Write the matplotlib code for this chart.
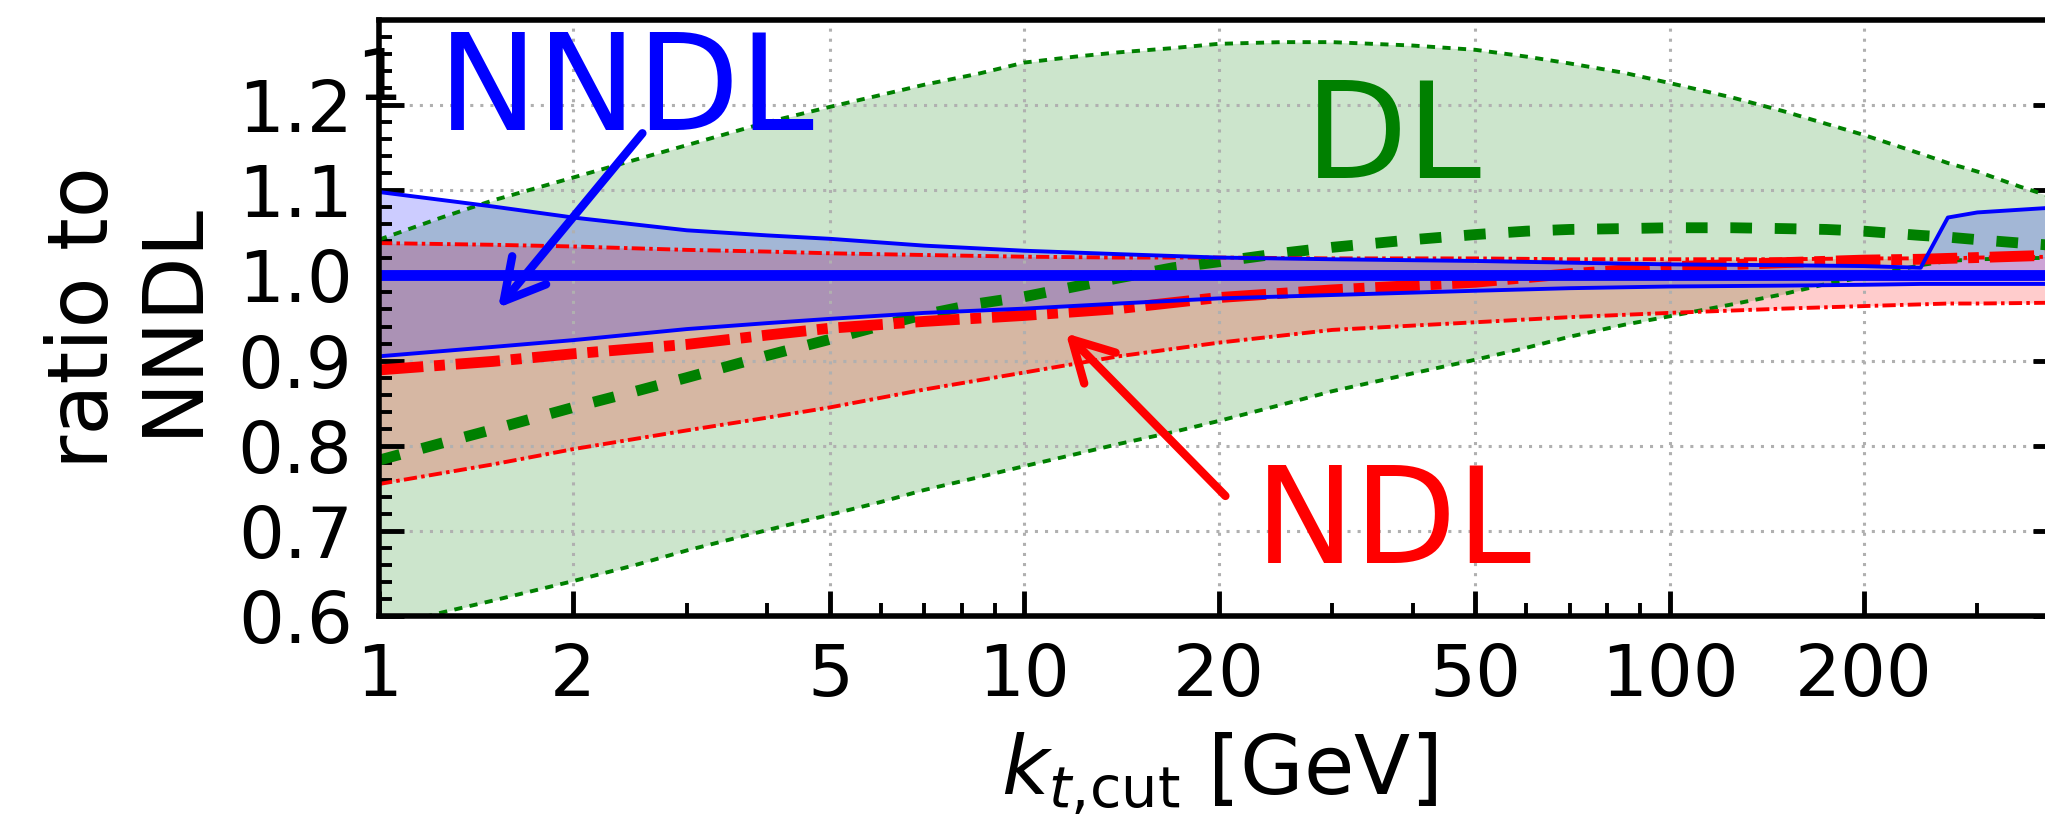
import matplotlib
matplotlib.use("Agg")
import matplotlib.pyplot as plt
from matplotlib.ticker import FixedLocator, FixedFormatter

# k_t,cut values (GeV) where the NDL / NNDL ratios are tabulated
kt = [1, 1.5, 2, 3, 4, 5, 7, 10, 14, 20, 30, 50, 70, 100, 150, 200, 245, 270, 300, 400]

# DL is tabulated on a finer grid
dl_kt = [1, 1.25, 1.5, 2, 2.5, 3, 4, 5, 6, 7, 8.5, 10, 12, 14, 17, 20, 25, 30, 40,
         50, 60, 70, 85, 100, 125, 150, 175, 200, 245, 270, 300, 350, 400]
dl_central = [0.783, 0.803, 0.819, 0.845, 0.864, 0.880, 0.906, 0.925, 0.941, 0.954,
              0.967, 0.975, 0.987, 0.997, 1.009, 1.016, 1.026, 1.033, 1.042, 1.048,
              1.052, 1.054, 1.055, 1.056, 1.056, 1.055, 1.054, 1.052, 1.047, 1.045,
              1.042, 1.038, 1.035]
dl_up = [1.042, 1.068, 1.088, 1.115, 1.136, 1.153, 1.180, 1.198, 1.212, 1.224,
         1.237, 1.250, 1.257, 1.262, 1.267, 1.272, 1.274, 1.274, 1.270, 1.265,
         1.257, 1.249, 1.238, 1.226, 1.209, 1.193, 1.178, 1.165, 1.143, 1.132,
         1.122, 1.104, 1.090]
dl_down = [0.585, 0.604, 0.618, 0.641, 0.660, 0.677, 0.701, 0.719, 0.734, 0.748,
           0.763, 0.776, 0.790, 0.802, 0.816, 0.829, 0.848, 0.864, 0.885, 0.901,
           0.915, 0.928, 0.942, 0.952, 0.966, 0.978, 0.990, 0.998, 1.012, 1.017,
           1.019, 1.020, 1.021]

# NDL
ndl_central = [0.889, 0.899, 0.908, 0.919, 0.930, 0.938, 0.946, 0.953, 0.961, 0.974,
               0.983, 0.992, 1.002, 1.010, 1.015, 1.018, 1.019, 1.020, 1.021, 1.024]
ndl_up = [1.038, 1.036, 1.034, 1.030, 1.028, 1.026, 1.024, 1.022, 1.021, 1.021,
          1.020, 1.020, 1.019, 1.019, 1.019, 1.020, 1.020, 1.020, 1.021, 1.022]
ndl_down = [0.755, 0.778, 0.796, 0.818, 0.833, 0.845, 0.866, 0.886, 0.905, 0.921,
            0.936, 0.945, 0.951, 0.956, 0.961, 0.964, 0.966, 0.967, 0.967, 0.968]

# NNDL (reference, so the central ratio is 1)
nndl_central = [1.0, 1.0, 1.0, 1.0, 1.0, 1.0, 1.0, 1.0, 1.0, 1.0,
                1.0, 1.0, 1.0, 1.0, 1.0, 1.0, 1.0, 1.0, 1.0, 1.0]
nndl_up = [1.098, 1.081, 1.068, 1.053, 1.047, 1.043, 1.035, 1.029, 1.025, 1.021,
           1.019, 1.017, 1.015, 1.013, 1.012, 1.011, 1.009, 1.068, 1.074, 1.080]
nndl_down = [0.905, 0.916, 0.924, 0.937, 0.944, 0.949, 0.956, 0.961, 0.967, 0.973,
             0.977, 0.982, 0.985, 0.987, 0.988, 0.989, 0.990, 0.990, 0.990, 0.990]

x_major = [1, 2, 5, 10, 20, 50, 100, 200]
x_labels = ['1', '2', '5', '10', '20', '50', '100', '200']
x_minor = [3, 4, 6, 7, 8, 9, 30, 40, 60, 70, 80, 90, 300, 400]
y_major = [0.6, 0.7, 0.8, 0.9, 1.0, 1.1, 1.2]
y_labels = ['0.6', '0.7', '0.8', '0.9', '1.0', '1.1', '1.2']
y_minor = [0.62, 0.64, 0.66, 0.68, 0.72, 0.74, 0.76, 0.78, 0.82, 0.84, 0.86, 0.88,
           0.92, 0.94, 0.96, 0.98, 1.02, 1.04, 1.06, 1.08, 1.12, 1.14, 1.16, 1.18,
           1.22, 1.24, 1.26, 1.28]

fig = plt.figure(figsize=(20.45, 8.27), dpi=100)
ax = fig.add_axes([379 / 2045, 211 / 827, 1679 / 2045, 596 / 827])

thin = 2.8
thick = 7.8

# DL
ax.fill_between(dl_kt, dl_down, dl_up, color='green', alpha=0.2, lw=0)
ax.plot(dl_kt, dl_up, color='green', lw=thin, ls=(0, (2.1, 1.9)))
ax.plot(dl_kt, dl_down, color='green', lw=thin, ls=(0, (2.1, 1.9)))
ax.plot(dl_kt, dl_central, color='green', lw=thick, ls=(0, (2.0, 2.1)))

# NDL
ax.fill_between(kt, ndl_down, ndl_up, color='red', alpha=0.2, lw=0)
ax.plot(kt, ndl_up, color='red', lw=thin, ls=(0, (3.4, 1.1, 0.9, 1.1)))
ax.plot(kt, ndl_down, color='red', lw=thin, ls=(0, (3.4, 1.1, 0.9, 1.1)))
ax.plot(kt, ndl_central, color='red', lw=thick, ls=(0, (4.1, 1.0, 1.0, 1.0)))

# NNDL
ax.fill_between(kt, nndl_down, nndl_up, color='blue', alpha=0.2, lw=0)
ax.plot(kt, nndl_up, color='blue', lw=thin)
ax.plot(kt, nndl_down, color='blue', lw=thin)
ax.plot(kt, nndl_central, color='blue', lw=thick)

ax.set_xscale('log')
ax.set_xlim(1, 400)
ax.set_ylim(0.6, 1.3)

ax.xaxis.set_major_locator(FixedLocator(x_major))
ax.xaxis.set_major_formatter(FixedFormatter(x_labels))
ax.xaxis.set_minor_locator(FixedLocator(x_minor))
ax.xaxis.set_minor_formatter(FixedFormatter([]))
ax.yaxis.set_major_locator(FixedLocator(y_major))
ax.yaxis.set_major_formatter(FixedFormatter(y_labels))
ax.yaxis.set_minor_locator(FixedLocator(y_minor))

ax.tick_params(which='both', direction='in', left=True, right=True,
               top=False, bottom=True, labelsize=52, pad=19)
ax.tick_params(which='major', length=18, width=3.5)
ax.tick_params(which='minor', length=9.5, width=2.8)
for s in ax.spines.values():
    s.set_linewidth(4)

ax.grid(True, which='major', color='#b0b0b0', ls=(0, (1, 2.3)), lw=2.2)

ax.set_xlabel(r'$k_{t{,}\mathrm{cut}}$ [GeV]', fontsize=59, labelpad=14)
ax.set_ylabel('ratio to\nNNDL', fontsize=60, labelpad=18, linespacing=1.1)

# labels and arrows
ax.text(2.42, 1.1706, 'NNDL', color='blue', fontsize=96, ha='center', va='baseline')
ax.annotate('', xy=(1.53, 0.962), xytext=(2.56, 1.167),
            arrowprops=dict(arrowstyle='->,head_length=0.4,head_width=0.22',
                            color='blue', lw=6, mutation_scale=72,
                            shrinkA=0, shrinkB=0))
ax.text(37.3, 1.115, 'DL', color='green', fontsize=96, ha='center', va='baseline')
ax.text(37.3, 0.662, 'NDL', color='red', fontsize=96, ha='center', va='baseline')
ax.annotate('', xy=(11.6, 0.932), xytext=(20.5, 0.741),
            arrowprops=dict(arrowstyle='->,head_length=0.4,head_width=0.22',
                            color='red', lw=6, mutation_scale=72,
                            shrinkA=0, shrinkB=0))

# stray "1" sitting behind the left spine near the top
ax.text(1, 1.206, '1', fontsize=52, ha='center', va='baseline',
        clip_on=False, zorder=0.5)

fig.savefig('out.png', dpi=100)
